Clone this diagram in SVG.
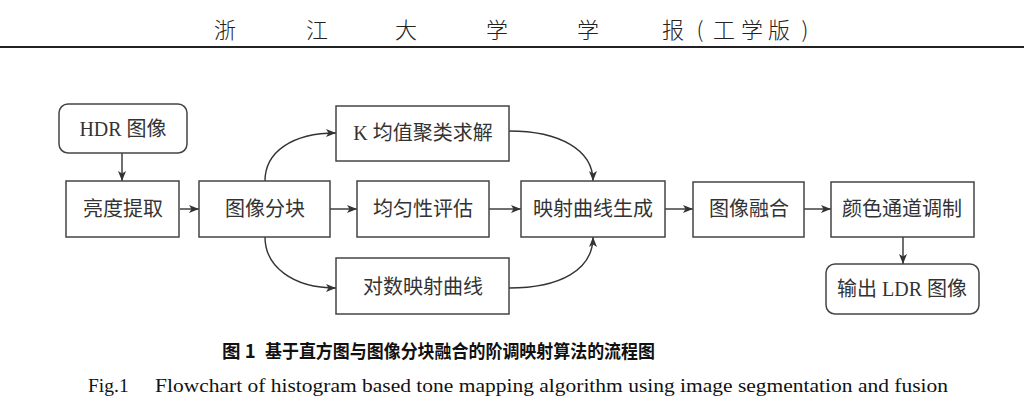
<svg xmlns="http://www.w3.org/2000/svg" width="1024" height="415" viewBox="0 0 1024 415">
<style>
.box{fill:#fff;stroke:#444;stroke-width:1.5}
.t{font-family:"Liberation Serif","Noto Sans CJK SC",serif;font-size:20px;fill:#333;text-anchor:middle;dominant-baseline:central}
.c{fill:none;stroke:#333;stroke-width:1.4}
.hd{font-family:"Noto Sans CJK SC",serif;font-size:22px;fill:#222;text-anchor:middle;dominant-baseline:central;font-weight:300}
.cap{font-family:"Noto Sans CJK SC",sans-serif;font-weight:bold;font-size:18.5px;fill:#111;dominant-baseline:central}
.en{font-family:"Liberation Serif",serif;font-size:19.5px;fill:#111}
</style>
<defs>
<marker id="ar" viewBox="0 0 10 10" refX="10" refY="5" markerWidth="10" markerHeight="10" markerUnits="userSpaceOnUse" orient="auto">
<path d="M0,1 L10,5 L0,9 L2.5,5 Z" fill="#333"/>
</marker>
</defs>
<rect width="1024" height="415" fill="#fff"/>
<g id="header">
<text class="hd" x="225" y="28">浙</text>
<text class="hd" x="317" y="28">江</text>
<text class="hd" x="406" y="28">大</text>
<text class="hd" x="497" y="28">学</text>
<text class="hd" x="588" y="28">学</text>
<text class="hd" x="673" y="28">报</text>
<text class="hd" x="700" y="28">(</text>
<text class="hd" x="724" y="28">工</text>
<text class="hd" x="752" y="28">学</text>
<text class="hd" x="779" y="28">版</text>
<text class="hd" x="805" y="28">)</text>
<rect x="0" y="46" width="1024" height="2" fill="#222"/>
</g>
<g id="connectors">
<path class="c" d="M122,153 L122,181" marker-end="url(#ar)"/>
<path class="c" d="M180,209 L199,209" marker-end="url(#ar)"/>
<path class="c" d="M330,209 L357,209" marker-end="url(#ar)"/>
<path class="c" d="M489,209 L521,209" marker-end="url(#ar)"/>
<path class="c" d="M665,209 L693,209" marker-end="url(#ar)"/>
<path class="c" d="M804,209 L831,209" marker-end="url(#ar)"/>
<path class="c" d="M903,237 L903,264" marker-end="url(#ar)"/>
<path class="c" d="M265,181 C265,152 292,133 336,133" marker-end="url(#ar)"/>
<path class="c" d="M509,131 C560,131 593,150 593,181" marker-end="url(#ar)"/>
<path class="c" d="M265,237 C265,266 292,288 336,288" marker-end="url(#ar)"/>
<path class="c" d="M509,288 C560,288 593,270 593,237" marker-end="url(#ar)"/>
</g>
<g id="hdr"><rect class="box" x="59" y="104" width="128" height="49" rx="9"/><text class="t" x="123" y="129">HDR 图像</text></g>
<g id="luma"><rect class="box" x="66" y="181" width="113" height="56"/><text class="t" x="123" y="209">亮度提取</text></g>
<g id="block"><rect class="box" x="199" y="181" width="131" height="56"/><text class="t" x="265" y="209">图像分块</text></g>
<g id="kmeans"><rect class="box" x="336" y="106" width="173" height="55"/><text class="t" x="423" y="133">K 均值聚类求解</text></g>
<g id="uniform"><rect class="box" x="357" y="181" width="132" height="56"/><text class="t" x="423" y="209">均匀性评估</text></g>
<g id="log"><rect class="box" x="336" y="258" width="173" height="56"/><text class="t" x="423" y="287">对数映射曲线</text></g>
<g id="curve"><rect class="box" x="521" y="181" width="144" height="56"/><text class="t" x="593" y="209">映射曲线生成</text></g>
<g id="fusion"><rect class="box" x="693" y="182" width="111" height="55"/><text class="t" x="749" y="209">图像融合</text></g>
<g id="color"><rect class="box" x="831" y="182" width="143" height="55"/><text class="t" x="902" y="209">颜色通道调制</text></g>
<g id="out"><rect class="box" x="826" y="264" width="153" height="50" rx="9"/><text class="t" x="902" y="289">输出 LDR 图像</text></g>
<g id="caption">
<text class="cap" x="222" y="350">图 1</text>
<text class="cap" x="265" y="350" textLength="390" lengthAdjust="spacingAndGlyphs">基于直方图与图像分块融合的阶调映射算法的流程图</text>
<text class="en" x="88" y="392">Fig.1</text>
<text class="en" x="155" y="392" textLength="793" lengthAdjust="spacingAndGlyphs">Flowchart of histogram based tone mapping algorithm using image segmentation and fusion</text>
</g>
</svg>
